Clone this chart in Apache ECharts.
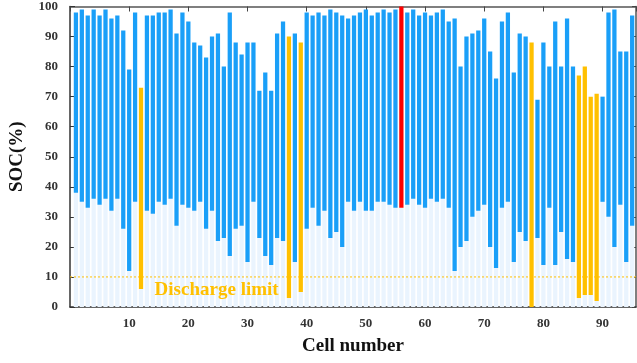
<!DOCTYPE html>
<html>
<head>
<meta charset="utf-8">
<script src="https://cdn.jsdelivr.net/npm/echarts@6/dist/echarts.min.js"></script>
<style>
	html, body { margin: 0; padding: 0; background: #fff; }
	#chart { width: 637px; height: 363px; }
</style>
</head>
<body>
<div id="chart"></div>
<script>
// SOC range per cell: bottom (low) and top (high)
var socHigh = [98, 99, 97, 99, 97, 99, 96, 97, 92, 79,
	98, 73, 97, 97, 98, 98, 99, 91, 98, 95,
	88, 87, 83, 90, 91, 80, 98, 88, 84, 88,
	88, 72, 78, 72, 91, 95, 90, 91, 88, 98,
	97, 98, 97, 99, 98, 97, 96, 97, 98, 99,
	97, 98, 99, 98, 99, 100, 98, 99, 97, 98,
	97, 98, 99, 95, 96, 80, 90, 91, 92, 96,
	85, 76, 95, 98, 78, 91, 90, 88, 69, 88,
	80, 95, 80, 96, 80, 77, 80, 70, 71, 70,
	98, 99, 85, 85, 97];
var socLow = [38, 35, 33, 36, 34, 36, 32, 36, 26, 12,
	35, 6, 32, 31, 35, 34, 36, 27, 34, 33,
	32, 35, 26, 32, 22, 23, 17, 26, 27, 15,
	35, 23, 17, 14, 23, 22, 3, 15, 5, 26,
	33, 27, 32, 23, 25, 20, 35, 32, 35, 32,
	32, 35, 35, 34, 33, 33, 34, 36, 34, 33,
	36, 35, 36, 33, 12, 20, 22, 30, 32, 34,
	20, 13, 33, 35, 15, 25, 22, 0, 23, 14,
	33, 14, 25, 16, 15, 3, 4, 4, 2, 35,
	30, 20, 34, 15, 27];
// cells highlighted
var limitCells = [12, 37, 39, 78, 86, 87, 88, 89];
var worstCells = [56];
var dischargeLimit = 10;
var xTicks = [10, 20, 30, 40, 50, 60, 70, 80, 90];
var xMax = 95.65;

var cBlue = '#1a9ff8';
var cOrange = '#ffc000';
var cRed = '#ff0000';
var cFaint = '#eaf4fe';
var axisColor = '#333';
var fontFamily = '"Liberation Serif", "Times New Roman", serif';

var data = [];
for (var i = 0; i < socHigh.length; i++) {
	var n = i + 1;
	var kind = 0;
	if (limitCells.indexOf(n) >= 0) kind = 1;
	if (worstCells.indexOf(n) >= 0) kind = 2;
	data.push([n, socLow[i], socHigh[i], kind]);
}

function renderItem(params, api) {
	var x = api.value(0);
	var lo = api.value(1);
	var hi = api.value(2);
	var kind = api.value(3);
	var w = api.size([0.72, 0])[0];
	var p0 = api.coord([x, 0]);
	var pl = api.coord([x, lo]);
	var ph = api.coord([x, hi]);
	var fill = kind == 2 ? cRed : (kind == 1 ? cOrange : cBlue);
	return {
		type: 'group',
		children: [{
			type: 'rect',
			shape: { x: p0[0] - w / 2, y: pl[1], width: w, height: p0[1] - pl[1] },
			style: { fill: cFaint }
		}, {
			type: 'rect',
			shape: { x: ph[0] - w / 2, y: ph[1], width: w, height: pl[1] - ph[1] },
			style: { fill: fill }
		}]
	};
}

var ech = echarts.init(document.getElementById('chart'), null, { renderer: 'canvas' });
var option = {
	animation: false,
	grid: { left: 67, right: 1, top: 6, bottom: 56 },
	xAxis: [{
		type: 'value',
		min: 0,
		max: xMax,
		interval: 10,
		name: 'Cell number',
		nameLocation: 'middle',
		nameGap: 30,
		nameTextStyle: { fontFamily: fontFamily, fontWeight: 'bold', fontSize: 19, color: '#111' },
		splitLine: { show: false },
		axisLine: { onZero: false, lineStyle: { color: axisColor, width: 1.5 } },
		axisTick: { inside: true, length: 5, lineStyle: { color: axisColor } },
		axisLabel: {
			showMinLabel: false,
			showMaxLabel: false,
			margin: 10,
			fontFamily: fontFamily,
			fontWeight: 'bold',
			fontSize: 13,
			color: '#333',
			formatter: function (v) { return xTicks.indexOf(v) >= 0 ? v : ''; }
		}
	}, {
		type: 'value',
		position: 'top',
		min: 0,
		max: xMax,
		interval: 10,
		splitLine: { show: false },
		axisLine: { onZero: false, lineStyle: { color: '#555', width: 1.5 } },
		axisTick: { inside: true, length: 5, lineStyle: { color: '#444' } },
		axisLabel: { show: false }
	}],
	yAxis: [{
		type: 'value',
		min: 0,
		max: 100,
		interval: 10,
		name: 'SOC(%)',
		nameLocation: 'middle',
		nameGap: 43,
		nameTextStyle: { fontFamily: fontFamily, fontWeight: 'bold', fontSize: 19, color: '#111' },
		splitLine: { show: false },
		axisLine: { onZero: false, lineStyle: { color: axisColor, width: 1.5 } },
		axisTick: { inside: true, length: 5, lineStyle: { color: axisColor } },
		axisLabel: {
			margin: 12,
			fontFamily: fontFamily,
			fontWeight: 'bold',
			fontSize: 13,
			color: '#333'
		}
	}, {
		type: 'value',
		position: 'right',
		min: 0,
		max: 100,
		interval: 10,
		splitLine: { show: false },
		axisLine: { onZero: false, lineStyle: { color: '#555', width: 1.5 } },
		axisTick: { inside: true, length: 4, lineStyle: { color: '#444' } },
		axisLabel: { show: false }
	}],
	series: [{
		type: 'custom',
		name: 'SOC',
		z: 2,
		renderItem: renderItem,
		encode: { x: 0, y: [1, 2] },
		data: data,
		markPoint: {
			silent: true,
			symbol: 'rect',
			symbolSize: 0,
			label: {
				show: true,
				position: [0, 0],
				align: 'left',
				verticalAlign: 'middle',
				formatter: 'Discharge limit',
				fontFamily: fontFamily,
				fontWeight: 'bold',
				fontSize: 19,
				color: cOrange
			},
			data: [{ coord: [14.3, 5.7] }]
		}
	}, {
		// discharge limit line across the plot
		type: 'line',
		name: 'Discharge limit',
		z: 10,
		silent: true,
		symbol: 'none',
		lineStyle: { color: cOrange, type: [2, 2], width: 1 },
		data: [[0, dischargeLimit], [xMax, dischargeLimit]]
	}]
};
ech.setOption(option);
</script>
</body>
</html>
